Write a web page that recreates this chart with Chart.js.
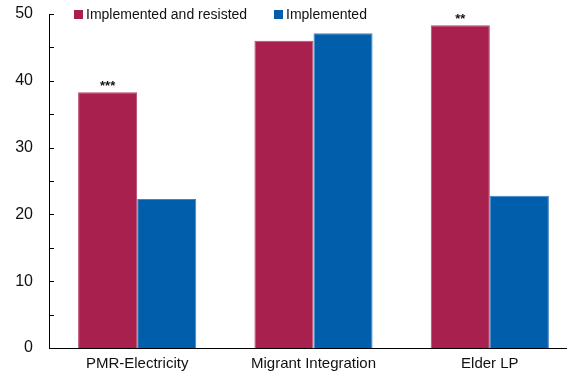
<!DOCTYPE html>
<html>
<head>
<meta charset="utf-8">
<script src="https://cdn.jsdelivr.net/npm/chart.js@4/dist/chart.umd.min.js"></script>
<style>
  html, body { margin: 0; padding: 0; background: #fff; overflow: hidden; }
  #wrap { width: 578px; height: 377px; position: relative; }
</style>
</head>
<body>
<div id="wrap"><canvas id="c"></canvas></div>
<script>
// Categories and series
const categories = ['PMR-Electricity', 'Migrant Integration', 'Elder LP'];
const seriesNames = ['Implemented and resisted', 'Implemented'];
const resisted = [38.3, 46.0, 48.3];
const implemented = [22.3, 47.1, 22.8];
// Significance markers shown above the "implemented and resisted" bars
const significance = ['***', '', '**'];
const yTicks = [0, 10, 20, 30, 40, 50];

const RED = '#A8204D';
const BLUE = '#005EAA';
const FONT = '"Liberation Sans", Arial, sans-serif';

// Short inward tick marks on the value axis, every 5 units
const innerTicks = {
  id: 'innerTicks',
  afterDraw(chart) {
    const y = chart.scales.y, area = chart.chartArea, ctx = chart.ctx;
    ctx.save();
    ctx.strokeStyle = '#000';
    ctx.lineWidth = 1;
    ctx.beginPath();
    const top = Math.round(y.getPixelForValue(50)) + 0.5;
    const base = Math.round(y.getPixelForValue(0)) + 0.5;
    ctx.moveTo(area.left + 0.5, top);
    ctx.lineTo(area.left + 0.5, base);
    ctx.lineTo(chart.width, base);
    for (let v = 0; v <= 50; v += 5) {
      const py = Math.round(y.getPixelForValue(v)) + 0.5;
      ctx.moveTo(area.left, py);
      ctx.lineTo(area.left + 5, py);
    }
    ctx.stroke();
    ctx.restore();
  }
};

// Legend drawn inside the plot area, at the top
const insideLegend = {
  id: 'insideLegend',
  afterDraw(chart) {
    const ctx = chart.ctx;
    ctx.save();
    ctx.font = '14px ' + FONT;
    ctx.textBaseline = 'middle';
    const items = [
      { x: 74, color: RED, text: seriesNames[0] },
      { x: 274, color: BLUE, text: seriesNames[1] }
    ];
    items.forEach(it => {
      ctx.fillStyle = it.color;
      ctx.fillRect(it.x, 10, 9, 9);
      ctx.fillStyle = '#111';
      ctx.fillText(it.text, it.x + 12, 15);
    });
    ctx.restore();
  }
};

// Significance stars above bars
const starLabels = {
  id: 'starLabels',
  afterDatasetsDraw(chart) {
    const meta = chart.getDatasetMeta(0), ctx = chart.ctx;
    ctx.save();
    ctx.font = 'bold 13px ' + FONT;
    ctx.textAlign = 'center';
    ctx.textBaseline = 'alphabetic';
    ctx.fillStyle = '#111';
    meta.data.forEach((bar, i) => {
      if (significance[i]) ctx.fillText(significance[i], bar.x, bar.y - 2);
    });
    ctx.restore();
  }
};

new Chart(document.getElementById('c'), {
  type: 'bar',
  data: {
    labels: categories,
    datasets: [
      { label: seriesNames[0], data: resisted, backgroundColor: RED,
        borderColor: '#b8466c', borderWidth: 1 },
      { label: seriesNames[1], data: implemented, backgroundColor: BLUE,
        borderColor: '#3f84c6', borderWidth: 1 }
    ]
  },
  options: {
    responsive: true,
    maintainAspectRatio: false,
    animation: false,
    layout: { padding: { top: 14, right: 0, left: 0, bottom: 0 } },
    datasets: { bar: { categoryPercentage: 0.67, barPercentage: 1.0 } },
    plugins: {
      legend: { display: false },
      tooltip: { enabled: false }
    },
    scales: {
      x: {
        grid: { display: false, drawTicks: false },
        border: { display: false },
        ticks: { color: '#111', font: { family: FONT, size: 15 }, padding: 7, maxRotation: 0 },
        afterFit(s) { s.height = 29; s.paddingLeft = 0; s.paddingRight = 0; }
      },
      y: {
        min: 0, max: 50,
        afterBuildTicks(s) { s.ticks = yTicks.map(v => ({ value: v })); },
        grid: { display: false, drawTicks: false },
        border: { display: false },
        ticks: { color: '#111', font: { family: FONT, size: 16 }, padding: 16 },
        afterFit(s) { s.width = 49; s.paddingTop = 0; s.paddingBottom = 0; }
      }
    }
  },
  plugins: [innerTicks, insideLegend, starLabels]
});
</script>
</body>
</html>
